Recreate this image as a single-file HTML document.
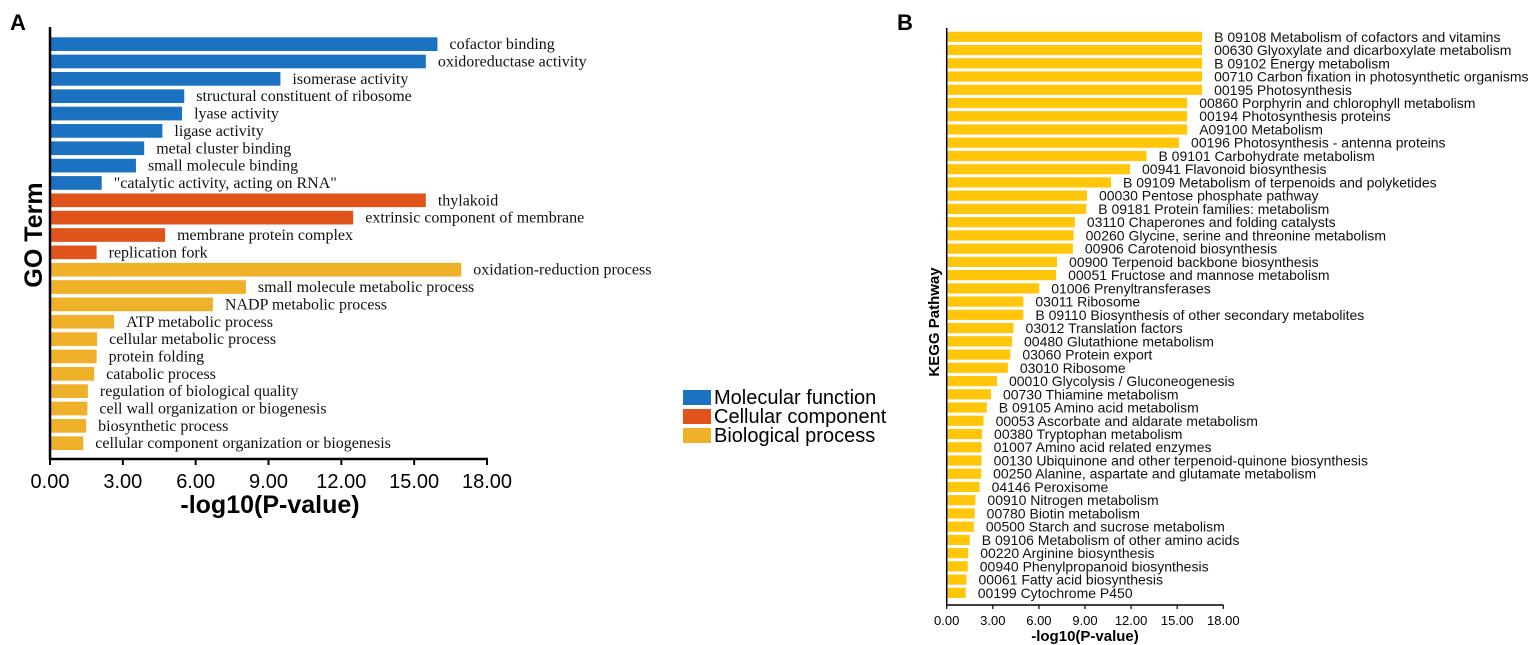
<!DOCTYPE html>
<html><head><meta charset="utf-8"><style>
body{margin:0;background:#fff}
svg{display:block}
text{font-family:"Liberation Sans",sans-serif}
.tm{font-family:"Liberation Serif",serif}
</style></head><body>
<svg id="c" width="1535" height="645" xmlns="http://www.w3.org/2000/svg">
<text x="10" y="30" font-size="22" font-weight="bold">A</text>
<text x="897" y="30" font-size="22" font-weight="bold">B</text>
<g id="ga"></g>
<g id="gb"></g>
<g>
<rect x="683" y="390" width="28" height="15" fill="#1a72c0"/>
<text x="714" y="404" font-size="20">Molecular function</text>
<rect x="683" y="409" width="28" height="15" fill="#e0541c"/>
<text x="714" y="423" font-size="20">Cellular component</text>
<rect x="683" y="428" width="28" height="15" fill="#efb12a"/>
<text x="714" y="442" font-size="20">Biological process</text>
</g>
</svg>
<script>
const goTerms=["cofactor binding","oxidoreductase activity","isomerase activity","structural constituent of ribosome","lyase activity","ligase activity","metal cluster binding","small molecule binding","\"catalytic activity, acting on RNA\"","thylakoid","extrinsic component of membrane","membrane protein complex","replication fork","oxidation-reduction process","small molecule metabolic process","NADP metabolic process","ATP metabolic process","cellular metabolic process","protein folding","catabolic process","regulation of biological quality","cell wall organization or biogenesis","biosynthetic process","cellular component organization or biogenesis"];
const goValues=[15.96,15.48,9.49,5.53,5.44,4.63,3.88,3.54,2.13,15.48,12.49,4.74,1.92,16.94,8.07,6.71,2.64,1.94,1.92,1.82,1.56,1.54,1.49,1.37];
const goCats=["mf","mf","mf","mf","mf","mf","mf","mf","mf","cc","cc","cc","cc","bp","bp","bp","bp","bp","bp","bp","bp","bp","bp","bp"];
const goTicks=["0.00","3.00","6.00","9.00","12.00","15.00","18.00"];
const keggTerms=["B  09108 Metabolism of cofactors and vitamins","00630 Glyoxylate and dicarboxylate metabolism","B  09102 Energy metabolism","00710 Carbon fixation in photosynthetic organisms","00195 Photosynthesis","00860 Porphyrin and chlorophyll metabolism","00194 Photosynthesis proteins","A09100 Metabolism","00196 Photosynthesis - antenna proteins","B  09101 Carbohydrate metabolism","00941 Flavonoid biosynthesis","B  09109 Metabolism of terpenoids and polyketides","00030 Pentose phosphate pathway","B  09181 Protein families: metabolism","03110 Chaperones and folding catalysts","00260 Glycine, serine and threonine metabolism","00906 Carotenoid biosynthesis","00900 Terpenoid backbone biosynthesis","00051 Fructose and mannose metabolism","01006 Prenyltransferases","03011 Ribosome","B  09110 Biosynthesis of other secondary metabolites","03012 Translation factors","00480 Glutathione metabolism","03060 Protein export","03010 Ribosome","00010 Glycolysis / Gluconeogenesis","00730 Thiamine metabolism","B  09105 Amino acid metabolism","00053 Ascorbate and aldarate metabolism","00380 Tryptophan metabolism","01007 Amino acid related enzymes","00130 Ubiquinone and other terpenoid-quinone biosynthesis","00250 Alanine, aspartate and glutamate metabolism","04146 Peroxisome","00910 Nitrogen metabolism","00780 Biotin metabolism","00500 Starch and sucrose metabolism","B  09106 Metabolism of other amino acids","00220 Arginine biosynthesis","00940 Phenylpropanoid biosynthesis","00061 Fatty acid biosynthesis","00199 Cytochrome P450"];
const keggValues=[16.62,16.62,16.62,16.62,16.62,15.65,15.65,15.65,15.12,13.0,11.93,10.69,9.13,9.08,8.34,8.26,8.21,7.18,7.12,6.02,4.99,4.99,4.35,4.25,4.14,3.98,3.27,2.88,2.61,2.40,2.30,2.27,2.27,2.24,2.14,1.87,1.82,1.77,1.50,1.40,1.37,1.29,1.24];
const keggTicks=[0,3,6,9,12,15,18];

const NS="http://www.w3.org/2000/svg";
function mk(p,tag,attrs,txt){const e=document.createElementNS(NS,tag);for(const k in attrs)e.setAttribute(k,attrs[k]);if(txt!==undefined)e.textContent=txt;p.appendChild(e);return e;}
const colors={mf:"#1a72c0",cc:"#e0541c",bp:"#efb12a"};

// Panel A
const ga=document.getElementById('ga');
const ax0=50,ax1=487,aTop=37.3,aPitch=17.35,aH=13.7,aBase=459;
const xa=v=>ax0+(v/18)*(ax1-ax0);
goValues.forEach((v,i)=>{
  const y=aTop+i*aPitch;
  const r=mk(ga,'rect',{x:ax0,y:y,width:xa(v)-ax0,height:aH,fill:colors[goCats[i]]});
  
  
  const t=mk(ga,'text',{x:xa(v)+12,y:y+aH/2+5,'font-size':16,class:'tm',fill:'#111'},goTerms[i]);
  
  
});
let l=mk(ga,'line',{x1:ax0,y1:27,x2:ax0,y2:aBase+1,stroke:'#000','stroke-width':2.5});

l=mk(ga,'line',{x1:ax0-1,y1:aBase,x2:ax1+1,y2:aBase,stroke:'#000','stroke-width':2.5});

goTicks.forEach(s=>{
  const x=xa(parseFloat(s));
  const tk=mk(ga,'line',{x1:x,y1:aBase,x2:x,y2:aBase+6,stroke:'#000','stroke-width':2});
  
  const t=mk(ga,'text',{x:x,y:aBase+29,'font-size':20,'text-anchor':'middle'},s);
  
});
let tt=mk(ga,'text',{x:270,y:513,'font-size':25,'font-weight':'bold','text-anchor':'middle'},'-log10(P-value)');

tt=mk(ga,'text',{x:0,y:0,'font-size':25,'font-weight':'bold','text-anchor':'middle',transform:'translate(42,235) rotate(-90)'},'GO Term');


// Panel B
const gb=document.getElementById('gb');
const bx0=946.7,bx1=1223.3,bTop=31.7,bPitch=13.24,bH=10.2,bBase=605;
const xb=v=>bx0+(v/18)*(bx1-bx0);
keggValues.forEach((v,i)=>{
  const y=bTop+i*bPitch;
  const r=mk(gb,'rect',{x:bx0,y:y,width:xb(v)-bx0,height:bH,fill:'#ffc60a'});
  
  
  const t=mk(gb,'text',{x:xb(v)+12,y:y+bH/2+5,'font-size':14,fill:'#111'},keggTerms[i]);
  
  
});
l=mk(gb,'line',{x1:bx0,y1:28,x2:bx0,y2:bBase,stroke:'#000','stroke-width':1.5});

l=mk(gb,'line',{x1:bx0,y1:bBase,x2:bx1,y2:bBase,stroke:'#000','stroke-width':1.5});

keggTicks.forEach(v=>{
  const x=xb(v);
  const tk=mk(gb,'line',{x1:x,y1:bBase,x2:x,y2:bBase+4,stroke:'#000','stroke-width':1.2});
  
  const t=mk(gb,'text',{x:x,y:bBase+20,'font-size':13,'text-anchor':'middle'},v.toFixed(2));
  
});
tt=mk(gb,'text',{x:1085,y:641,'font-size':15,'font-weight':'bold','text-anchor':'middle'},'-log10(P-value)');

tt=mk(gb,'text',{x:0,y:0,'font-size':15,'font-weight':'bold','text-anchor':'middle',transform:'translate(939,322) rotate(-90)'},'KEGG Pathway');

</script>
</body></html>
